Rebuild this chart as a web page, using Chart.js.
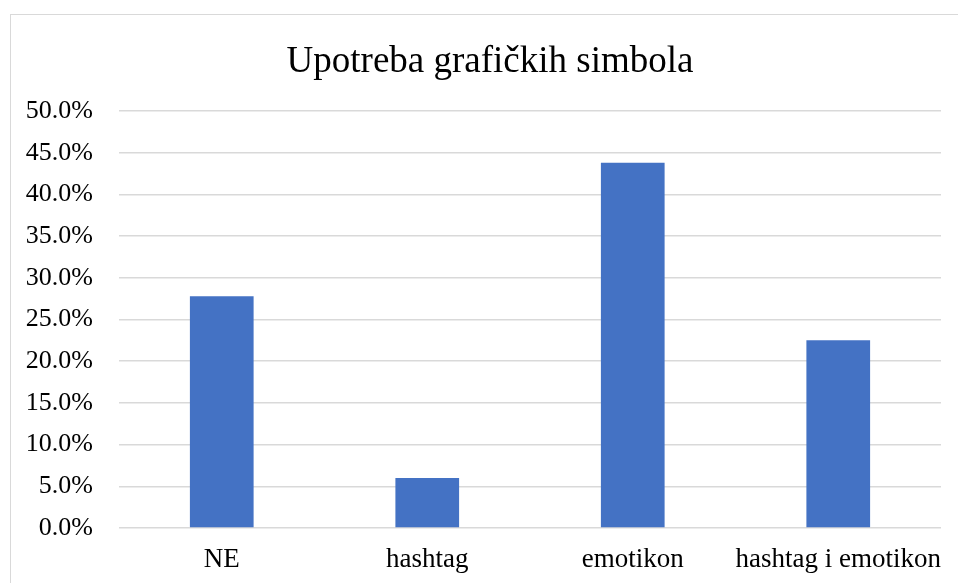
<!DOCTYPE html>
<html>
<head>
<meta charset="utf-8">
<script src="https://cdn.jsdelivr.net/npm/chart.js@4"></script>
<style>
  html, body { margin: 0; padding: 0; background: #fff; overflow: hidden; }
  #frame { position: absolute; left: 10px; top: 14px; width: 960px; height: 600px; border: 1.5px solid #d9d9d9; box-sizing: border-box; }
  canvas { position: absolute; left: 0; top: 0; }
</style>
</head>
<body>
<div id="frame"></div>
<canvas id="chart" width="958" height="583"></canvas>
<script>
// Upotreba grafičkih simbola
const title = 'Upotreba grafičkih simbola';
const categories = ['NE', 'hashtag', 'emotikon', 'hashtag i emotikon'];
const shares = [27.8, 6.0, 43.8, 22.5];
const yMin = 0, yMax = 50, yStep = 5;

const serif = '"Liberation Serif", "Times New Roman", serif';

// title is centred on the outer frame, not on the canvas, so draw it here
const frameTitle = {
  id: 'frameTitle',
  afterDraw(chart) {
    const ctx = chart.ctx;
    ctx.save();
    ctx.fillStyle = '#000';
    ctx.font = `37px ${serif}`;
    ctx.textAlign = 'center';
    ctx.textBaseline = 'middle';
    ctx.fillText(title, 490, 62);
    ctx.restore();
  }
};

new Chart(document.getElementById('chart').getContext('2d'), {
  type: 'bar',
  data: {
    labels: categories,
    datasets: [{
      data: shares,
      backgroundColor: '#4472c4',
      categoryPercentage: 1,
      barPercentage: 0.31
    }]
  },
  options: {
    responsive: false,
    animation: false,
    layout: { padding: { left: 0, right: 17, top: 111, bottom: 6 } },
    plugins: {
      legend: { display: false },
      tooltip: { enabled: false },
      title: { display: false }
    },
    scales: {
      x: {
        grid: { display: false },
        border: { display: false },
        ticks: { color: '#000', font: { family: serif, size: 27 }, padding: 8, maxRotation: 0, autoSkip: false },
        afterFit: s => { s.height = 49; }
      },
      y: {
        min: yMin, max: yMax,
        grid: { color: '#d9d9d9', lineWidth: 1.5, drawTicks: false },
        border: { display: false },
        ticks: {
          stepSize: yStep,
          color: '#000',
          font: { family: serif, size: 26 },
          padding: 26,
          callback: v => v.toFixed(1) + '%'
        },
        afterFit: s => { s.width = 119; }
      }
    }
  },
  plugins: [frameTitle]
});
</script>
</body>
</html>
